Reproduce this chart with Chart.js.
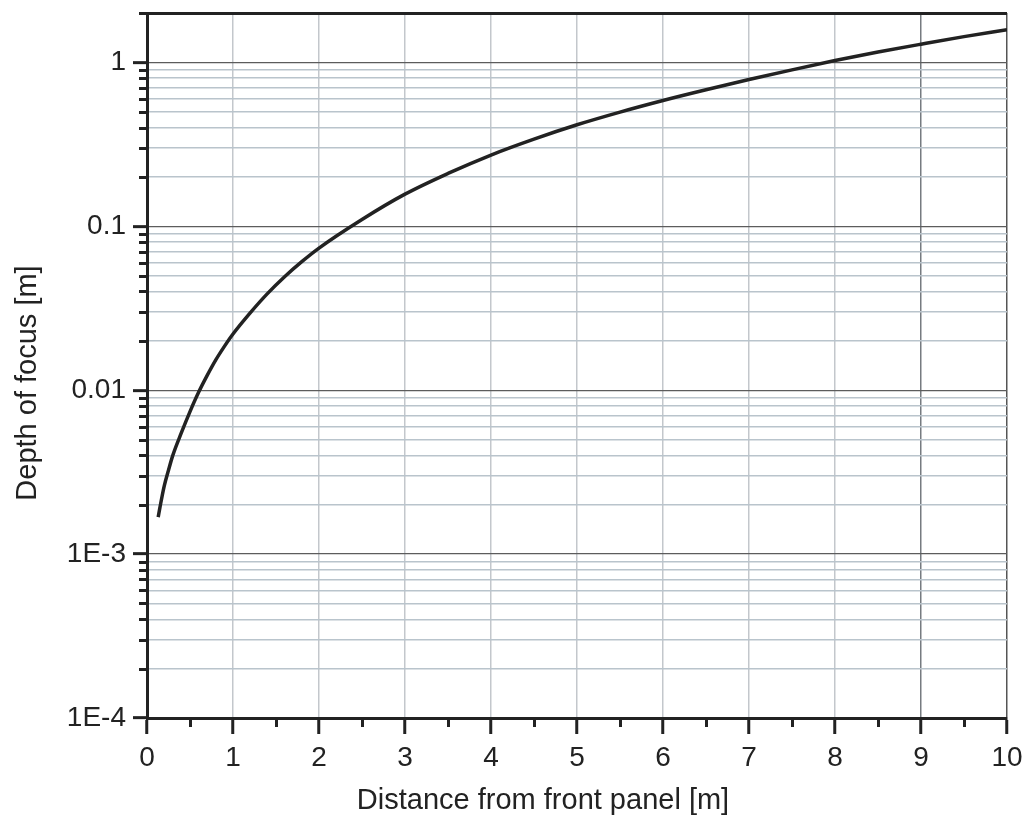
<!DOCTYPE html>
<html>
<head>
<meta charset="utf-8">
<title>Depth of focus</title>
<script src="https://cdn.jsdelivr.net/npm/chart.js@4.4.1/dist/chart.umd.min.js"></script>
<style>
    html, body { margin: 0; padding: 0; background: #fff; }
    #wrap { width: 1036px; height: 838px; }
</style>
</head>
<body>
<div id="wrap"><canvas id="dofChart" width="1036" height="838"></canvas></div>
<script>
// values
const distance = [0.13, 0.15, 0.2, 0.25, 0.3, 0.4, 0.5, 0.6, 0.7, 0.8, 0.9, 1.0,
    1.2, 1.4, 1.6, 1.8, 2.0, 2.5, 3.0, 3.5, 4.0, 4.5, 5.0, 5.5, 6.0, 6.5, 7.0,
    7.5, 8.0, 8.5, 9.0, 9.5, 10.0];
const depthOfFocus = [0.00168, 0.00192, 0.0026, 0.00325, 0.0040, 0.0055, 0.0074, 0.0097,
    0.0123, 0.0153, 0.0185, 0.0220, 0.0296, 0.0388, 0.0492, 0.0608, 0.0736, 0.110,
    0.157, 0.21, 0.272, 0.340, 0.416, 0.497, 0.585, 0.68, 0.785, 0.90, 1.025,
    1.155, 1.29, 1.435, 1.58];

// axis ticks
const xMajorTicks = [0, 1, 2, 3, 4, 5, 6, 7, 8, 9, 10];
const xMinorTicks = [0.5, 1.5, 2.5, 3.5, 4.5, 5.5, 6.5, 7.5, 8.5, 9.5];
const yMajorTicks = [0.0001, 0.001, 0.01, 0.1, 1];
const yMajorLabels = ['1E-4', '1E-3', '0.01', '0.1', '1'];
const yMinorSteps = [2, 3, 4, 5, 6, 7, 8, 9];
const yMin = 0.0001;
const yMax = 2;

const xTitle = 'Distance from front panel [m]';
const yTitle = 'Depth of focus [m]';

const yMinorTicks = [];
yMajorTicks.slice(0, -1).forEach(d => {
    yMinorSteps.forEach(m => yMinorTicks.push(d * m));
});
yMinorTicks.push(yMax);

function isYMajor(v) {
    return yMajorTicks.some(t => Math.abs(t - v) / t < 1e-6);
}
function isXMajor(v) {
    return xMajorTicks.includes(v);
}

const FONT = '"Liberation Sans", Arial, sans-serif';

// short ticks for the minor values (tickLength is not scriptable)
const minorTicks = {
    id: 'minorTicks',
    afterDraw(chart) {
        const {ctx, chartArea, scales: {x, y}} = chart;
        ctx.save();
        ctx.strokeStyle = '#222';
        ctx.lineWidth = 3;
        ctx.beginPath();
        yMinorTicks.forEach(v => {
            const py = Math.round(y.getPixelForValue(v)) + 0.5;
            ctx.moveTo(chartArea.left - 8, py);
            ctx.lineTo(chartArea.left, py);
        });
        xMinorTicks.forEach(v => {
            const px = Math.round(x.getPixelForValue(v)) + 0.5;
            ctx.moveTo(px, chartArea.bottom);
            ctx.lineTo(px, chartArea.bottom + 9);
        });
        ctx.stroke();
        ctx.restore();
    }
};

// axis titles sit a bit off-centre in the original, so draw them here
const axisTitles = {
    id: 'axisTitles',
    afterDraw(chart) {
        const {ctx} = chart;
        ctx.save();
        ctx.fillStyle = '#222';
        ctx.font = '29px ' + FONT;
        ctx.textAlign = 'center';
        ctx.textBaseline = 'middle';
        ctx.fillText(xTitle, 543, 801);
        ctx.translate(28, 383);
        ctx.rotate(-Math.PI / 2);
        ctx.fillText(yTitle, 0, 0);
        ctx.restore();
    }
};

Chart.defaults.font.family = FONT;
Chart.defaults.font.size = 28;
Chart.defaults.color = '#222';

const ctx = document.getElementById('dofChart').getContext('2d');
new Chart(ctx, {
    type: 'line',
    data: {
        datasets: [{
            data: distance.map((d, i) => ({x: d, y: depthOfFocus[i]})),
            borderColor: '#222',
            borderWidth: 3.5,
            pointRadius: 0,
            fill: false,
            cubicInterpolationMode: 'monotone'
        }]
    },
    options: {
        responsive: false,
        animation: false,
        layout: {
            padding: {top: 13, right: 29, left: 0, bottom: 0}
        },
        plugins: {
            legend: {display: false},
            tooltip: {enabled: false}
        },
        scales: {
            x: {
                type: 'linear',
                min: 0,
                max: 10,
                afterBuildTicks: (scale) => {
                    scale.ticks = xMajorTicks.concat(xMinorTicks)
                        .sort((a, b) => a - b)
                        .map(v => ({value: v}));
                },
                afterFit: (scale) => {
                    scale.height = 120;
                    scale.paddingLeft = 0;
                    scale.paddingRight = 0;
                },
                ticks: {
                    autoSkip: false,
                    maxRotation: 0,
                    padding: 7,
                    callback: (v) => isXMajor(v) ? String(v) : ''
                },
                grid: {
                    color: (c) => {
                        const v = c.tick.value;
                        if (!isXMajor(v)) return 'transparent';
                        if (v === 9) return '#767b80';
                        if (v === 10) return '#555';
                        return '#c3c7cc';
                    },
                    lineWidth: 1.5,
                    tickLength: 16,
                    tickWidth: 3,
                    tickColor: (c) => isXMajor(c.tick.value) ? '#222' : 'transparent'
                },
                border: {display: true, color: '#222', width: 3},
                title: {display: false}
            },
            y: {
                type: 'logarithmic',
                min: yMin,
                max: yMax,
                afterBuildTicks: (scale) => {
                    scale.ticks = yMajorTicks.concat(yMinorTicks)
                        .sort((a, b) => a - b)
                        .map(v => ({value: v}));
                },
                afterFit: (scale) => {
                    scale.width = 147;
                    scale.paddingTop = 0;
                    scale.paddingBottom = 0;
                },
                ticks: {
                    autoSkip: false,
                    padding: 7,
                    callback: (v) => {
                        const i = yMajorTicks.findIndex(t => Math.abs(t - v) / t < 1e-6);
                        return i >= 0 ? yMajorLabels[i] : '';
                    }
                },
                grid: {
                    color: (c) => {
                        const v = c.tick.value;
                        if (v === yMax) return '#222';
                        return isYMajor(v) ? '#5c5c5c' : '#b9c4cc';
                    },
                    lineWidth: (c) => {
                        const v = c.tick.value;
                        if (v === yMax) return 3;
                        return isYMajor(v) ? 1.3 : 1.6;
                    },
                    tickLength: 14,
                    tickWidth: 3,
                    tickColor: (c) => isYMajor(c.tick.value) ? '#222' : 'transparent'
                },
                border: {display: true, color: '#222', width: 3},
                title: {display: false}
            }
        }
    },
    plugins: [minorTicks, axisTitles]
});
</script>
</body>
</html>
